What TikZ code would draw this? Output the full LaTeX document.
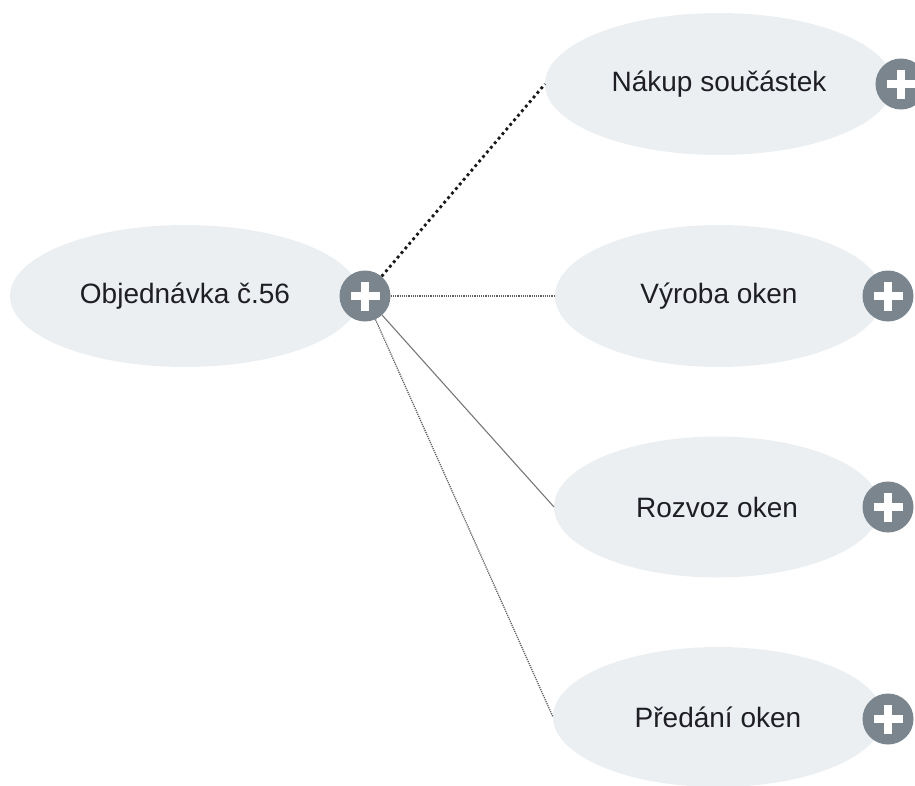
\documentclass[tikz,border=0pt]{standalone}
\usepackage{fontspec}
\setmainfont{Liberation Sans}
\usetikzlibrary{shapes.geometric}
\definecolor{ellfill}{RGB}{236,239,241}
\definecolor{plusgray}{RGB}{122,133,142}
\definecolor{txt}{RGB}{30,30,36}
\definecolor{linegray}{RGB}{95,95,95}
\begin{document}
\begin{tikzpicture}[x=1pt,y=-1pt,
  task/.style={ellipse, fill=ellfill, inner sep=0pt, outer sep=0pt,
    font=\fontsize{28}{32}\selectfont, text=txt},
  plusbtn/.style={circle, fill=plusgray, minimum size=51pt, inner sep=0pt},
  crossbar/.style={white, line width=8.5pt},
  boldlink/.style={black!90, line width=2.8pt, dash pattern=on 2.8pt off 3.2pt},
  dotlink/.style={linegray, line width=1.3pt, dash pattern=on 1.2pt off 1pt},
  solidlink/.style={linegray!85, line width=1.1pt}]
\clip (0,0) rectangle (915,785);
\node[task, minimum width=350pt, minimum height=142pt] (root) at (185,296) {Objednávka č.56};
\node[task, minimum width=348pt, minimum height=142pt] (n1) at (719,84) {Nákup součástek};
\node[task, minimum width=328pt, minimum height=142pt] (n2) at (719,296) {Výroba oken};
\node[task, minimum width=326pt, minimum height=141pt] (n3) at (717,507) {Rozvoz oken};
\node[task, minimum width=330pt, minimum height=140pt] (n4) at (718,717) {Předání oken};
\node[plusbtn] (rp) at (365,296) {};
\node[plusbtn] (p1) at (901,84) {};
\node[plusbtn] (p2) at (888,296) {};
\node[plusbtn] (p3) at (888,507) {};
\node[plusbtn] (p4) at (888,719) {};
\foreach \p in {rp,p1,p2,p3,p4}{
  \draw[crossbar] ([xshift=-14.5pt]\p.center) -- ([xshift=14.5pt]\p.center);
  \draw[crossbar] ([yshift=-14.5pt]\p.center) -- ([yshift=14.5pt]\p.center);
}
\draw[boldlink] (rp) -- (n1.west);
\draw[dotlink] (rp) -- (n2.west);
\draw[solidlink] (rp) -- (n3.west);
\draw[dotlink] (rp) -- (n4.west);
\end{tikzpicture}
\end{document}
